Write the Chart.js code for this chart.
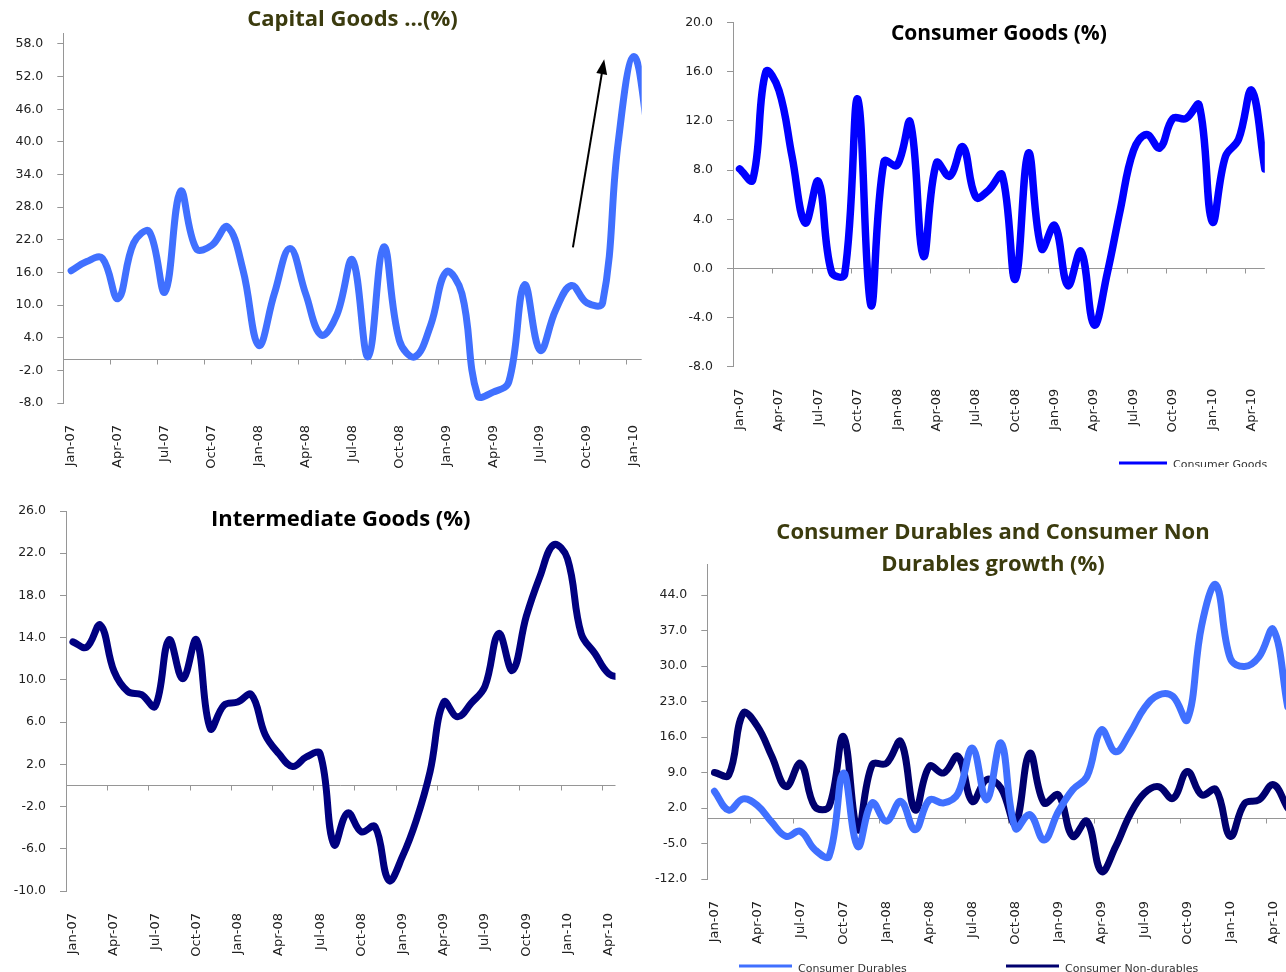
<!DOCTYPE html>
<html>
<head>
<meta charset="utf-8">
<title>IIP growth by use-based category</title>
<script src="https://cdn.jsdelivr.net/npm/chart.js@4.4.1/dist/chart.umd.min.js"></script>
<style>
  html, body { margin: 0; padding: 0; background: #fff; overflow: hidden; width: 1286px; height: 972px; }
  canvas { position: absolute; }
</style>
</head>
<body>
<canvas id="capital" width="650" height="470" style="left:0;top:0"></canvas>
<canvas id="consumer" width="636" height="467" style="left:650px;top:0"></canvas>
<canvas id="intermediate" width="640" height="482" style="left:0;top:490px"></canvas>
<canvas id="durables" width="710" height="482" style="left:640px;top:490px"></canvas>
<script>
// month categories, Jan-07 .. May-10
var months = ["Jan-07", "Feb-07", "Mar-07", "Apr-07", "May-07", "Jun-07", "Jul-07", "Aug-07", "Sep-07", "Oct-07", "Nov-07", "Dec-07",
  "Jan-08", "Feb-08", "Mar-08", "Apr-08", "May-08", "Jun-08", "Jul-08", "Aug-08", "Sep-08", "Oct-08", "Nov-08", "Dec-08",
  "Jan-09", "Feb-09", "Mar-09", "Apr-09", "May-09", "Jun-09", "Jul-09", "Aug-09", "Sep-09", "Oct-09", "Nov-09", "Dec-09",
  "Jan-10", "Feb-10", "Mar-10", "Apr-10", "May-10"];

// growth (%)
var capitalGoods = [16.3, 18.0, 18.6, 11.2, 21.4, 23.5, 12.4, 30.9, 20.4, 21.0, 24.4, 16.4,
  2.6, 12.1, 20.4, 12.1, 4.5, 8.2, 18.3, 0.5, 20.7, 3.5, 0.5, 6.3,
  16.1, 12.1, -6.6, -6.0, -4.1, 13.7, 1.7, 9.1, 13.6, 10.4, 10.4, 40.0,
  55.7, 40.0];
var consumerGoods = [8.1, 7.2, 16.0, 14.5, 9.1, 3.7, 7.1, -0.3, -0.5, 13.8, -3.0, 8.7,
  8.4, 11.9, 1.0, 8.6, 7.5, 9.9, 5.8, 6.4, 7.6, -0.9, 9.4, 1.6,
  3.5, -1.4, 1.4, -4.6, -0.4, 4.8, 9.6, 10.9, 9.8, 12.2, 12.2, 13.3,
  3.8, 9.1, 10.5, 14.5, 8.1];
var intermediateGoods = [13.6, 13.1, 15.2, 10.8, 8.9, 8.6, 7.5, 13.8, 10.1, 13.8, 5.4, 7.6,
  7.9, 8.6, 4.8, 3.0, 1.8, 2.7, 3.0, -5.6, -2.6, -4.4, -3.9, -9.0,
  -6.7, -3.3, 1.3, 7.9, 6.5, 7.8, 9.4, 14.4, 10.9, 16.0, 19.8, 22.8,
  21.5, 14.4, 12.5, 10.6, 10.2];
var consumerDurables = [5.3, 1.6, 3.8, 2.5, -0.8, -3.6, -2.6, -6.2, -7.5, 8.9, -5.6, 3.0,
  -0.6, 3.3, -2.3, 3.6, 3.0, 4.9, 13.8, 3.6, 14.8, -2.0, 0.7, -4.3,
  1.3, 5.6, 8.2, 17.4, 13.1, 16.8, 21.7, 24.3, 24.0, 19.4, 38.0, 46.0,
  31.5, 29.9, 31.8, 37.2, 22.0];
var consumerNonDurables = [9.0, 8.5, 20.7, 18.1, 12.2, 6.2, 10.8, 2.3, 2.3, 16.1, -2.3, 10.5,
  10.8, 15.1, 1.6, 10.2, 8.9, 12.2, 3.3, 7.6, 5.9, -1.0, 12.8, 3.0,
  4.6, -3.6, -0.6, -10.5, -5.6, 0.7, 4.9, 6.2, 3.9, 9.2, 4.6, 5.6,
  -3.6, 2.9, 3.6, 6.6, 2.0];

// value axis ticks
var capitalTicks = [-8, -2, 4, 10, 16, 22, 28, 34, 40, 46, 52, 58];
var consumerTicks = [-8, -4, 0, 4, 8, 12, 16, 20];
var intermediateTicks = [-10, -6, -2, 2, 6, 10, 14, 18, 22, 26];
var durablesTicks = [-12, -5, 2, 9, 16, 23, 30, 37, 44];

// arrow on the capital goods panel, in [month index, value]
var arrowFrom = [32.1, 20.6];
var arrowTo = [34.1, 55.2];

Chart.defaults.font.family = "'DejaVu Sans', sans-serif";
Chart.defaults.font.size = 12;
Chart.defaults.color = '#222';

var AXIS_GREY = '#969696';

function pts(vals) {
  return vals.map(function (v, i) { return { x: i, y: v }; });
}

function quarterTicks(last) {
  var out = [];
  for (var i = 0; i <= last; i += 3) out.push({ value: i });
  return out;
}

function xAxis(lastTick, max, height) {
  return {
    type: 'linear', min: -0.5, max: max,
    grid: { display: false, drawTicks: false },
    border: { display: false },
    ticks: {
      autoSkip: false, minRotation: 90, maxRotation: 90, padding: 22,
      font: { size: 13 },
      callback: function (v) { return months[v]; }
    },
    afterBuildTicks: function (s) { s.ticks = quarterTicks(lastTick); },
    afterFit: function (s) { s.height = height; s.paddingLeft = 0; s.paddingRight = 0; }
  };
}

function yAxis(min, max, ticks, width) {
  return {
    min: min, max: max,
    grid: { drawOnChartArea: false, drawTicks: true, tickLength: 6, tickColor: AXIS_GREY },
    border: { color: AXIS_GREY, width: 1 },
    ticks: { padding: 14, font: { size: 12.5 }, callback: function (v) { return v.toFixed(1); } },
    afterBuildTicks: function (s) { s.ticks = ticks.map(function (v) { return { value: v }; }); },
    afterFit: function (s) { s.width = width; s.paddingTop = 0; s.paddingBottom = 0; }
  };
}

// empty box on the right, only there to shift a full-width title
function spacerAxis(width) {
  return {
    position: 'right', min: 0, max: 1,
    grid: { display: false }, border: { display: false }, ticks: { display: false },
    afterFit: function (s) { s.width = width; s.paddingTop = 0; s.paddingBottom = 0; }
  };
}

function series(label, vals, color, width) {
  return {
    label: label, data: pts(vals), borderColor: color, backgroundColor: color,
    borderWidth: width || 7, tension: 0.4, pointRadius: 0, clip: 0,
    borderCapStyle: 'round', borderJoinStyle: 'round', fill: false
  };
}

function title(text, color, size, padTop, padBottom, lineHeight, fullSize) {
  return {
    display: true, text: text, color: color, fullSize: !!fullSize,
    font: { family: "'Open Sans', sans-serif", size: size, weight: 'bold', lineHeight: lineHeight || 1.2 },
    padding: { top: padTop, bottom: padBottom }
  };
}

// horizontal axis drawn at zero, with tick marks between quarters
var zeroAxis = {
  id: 'zeroAxis',
  beforeDatasetsDraw: function (chart) {
    var a = chart.chartArea, xs = chart.scales.x, ys = chart.scales.y, ctx = chart.ctx;
    var y0 = Math.round(ys.getPixelForValue(0)) + 0.5;
    ctx.save();
    ctx.strokeStyle = AXIS_GREY;
    ctx.lineWidth = 1;
    ctx.beginPath();
    ctx.moveTo(a.left, y0);
    ctx.lineTo(a.right, y0);
    xs.ticks.forEach(function (t) {
      if (t.value <= 0) return;
      var px = Math.round(xs.getPixelForValue(t.value - 0.5)) + 0.5;
      ctx.moveTo(px, y0);
      ctx.lineTo(px, y0 + 5);
    });
    ctx.stroke();
    ctx.restore();
  }
};

function arrowMark(from, to) {
  return {
    id: 'arrowMark',
    afterDatasetsDraw: function (chart) {
      var xs = chart.scales.x, ys = chart.scales.y, ctx = chart.ctx;
      var x1 = xs.getPixelForValue(from[0]), y1 = ys.getPixelForValue(from[1]);
      var x2 = xs.getPixelForValue(to[0]), y2 = ys.getPixelForValue(to[1]);
      var ang = Math.atan2(y2 - y1, x2 - x1), c = Math.cos(ang), s = Math.sin(ang);
      ctx.save();
      ctx.strokeStyle = '#000';
      ctx.fillStyle = '#000';
      ctx.lineWidth = 2;
      ctx.beginPath();
      ctx.moveTo(x1, y1);
      ctx.lineTo(x2 - 12 * c, y2 - 12 * s);
      ctx.stroke();
      ctx.beginPath();
      ctx.moveTo(x2, y2);
      ctx.lineTo(x2 - 15 * c + 5.5 * s, y2 - 15 * s - 5.5 * c);
      ctx.lineTo(x2 - 15 * c - 5.5 * s, y2 - 15 * s + 5.5 * c);
      ctx.closePath();
      ctx.fill();
      ctx.restore();
    }
  };
}

// Excel-style legend: short line sample, then the series name
function lineLegend(spots, len, textDrop) {
  return {
    id: 'lineLegend',
    afterDraw: function (chart) {
      var ctx = chart.ctx;
      chart.data.datasets.forEach(function (ds, i) {
        var p = spots[i];
        ctx.save();
        ctx.strokeStyle = ds.borderColor;
        ctx.lineWidth = 3;
        ctx.beginPath();
        ctx.moveTo(p[0], p[1]);
        ctx.lineTo(p[0] + len, p[1]);
        ctx.stroke();
        ctx.fillStyle = '#333';
        ctx.font = "11px 'DejaVu Sans', sans-serif";
        ctx.textBaseline = 'middle';
        ctx.fillText(ds.label, p[0] + len + 6, p[1] + textDrop);
        ctx.restore();
      });
    }
  };
}

function baseOptions(padRight, titleOpts, scales) {
  return {
    responsive: false, animation: false, events: [],
    layout: { padding: { left: 0, right: padRight, top: 0, bottom: 0 } },
    plugins: { legend: { display: false }, title: titleOpts, tooltip: { enabled: false } },
    scales: scales
  };
}

new Chart(document.getElementById('capital'), {
  type: 'line',
  data: { datasets: [series('Capital Goods', capitalGoods, '#4070ff')] },
  options: baseOptions(8.3,
    title('Capital Goods ...(%)', '#3b3b0e', 22, 6.8, -0.1),
    { x: xAxis(36, 36.5, 67), y: yAxis(-8, 60, capitalTicks, 63.3) }),
  plugins: [zeroAxis, arrowMark(arrowFrom, arrowTo)]
});

new Chart(document.getElementById('consumer'), {
  type: 'line',
  data: { datasets: [series('Consumer Goods', consumerGoods, '#0000ff', 7.5)] },
  options: baseOptions(21.2,
    title('Consumer Goods (%)', '#000', 21, 21.4, -23.9),
    { x: xAxis(39, 40, 100.3), y: yAxis(-8, 20, consumerTicks, 83) }),
  plugins: [zeroAxis, lineLegend([[469, 463]], 48, 2.5)]
});

new Chart(document.getElementById('intermediate'), {
  type: 'line',
  data: { datasets: [series('Intermediate Goods', intermediateGoods, '#000080')] },
  options: baseOptions(24.5,
    title('Intermediate Goods (%)', '#000', 22, 16.8, -22.2),
    { x: xAxis(39, 39.5, 81), y: yAxis(-10, 26, intermediateTicks, 66) }),
  plugins: [zeroAxis]
});

new Chart(document.getElementById('durables'), {
  type: 'line',
  data: {
    datasets: [
      series('Consumer Durables', consumerDurables, '#4070ff'),
      series('Consumer Non-durables', consumerNonDurables, '#00006e')
    ]
  },
  options: baseOptions(4,
    title(['Consumer Durables and Consumer Non', 'Durables growth (%)'], '#3b3b0e', 22, 27, -16.4, 32 / 22, true),
    { x: xAxis(39, 40.5, 93), y: yAxis(-12, 50, durablesTicks, 67.3), spacer: spacerAxis(51.2) }),
  plugins: [zeroAxis, lineLegend([[99, 476], [366, 476]], 53, 3)]
});
</script>
</body>
</html>
